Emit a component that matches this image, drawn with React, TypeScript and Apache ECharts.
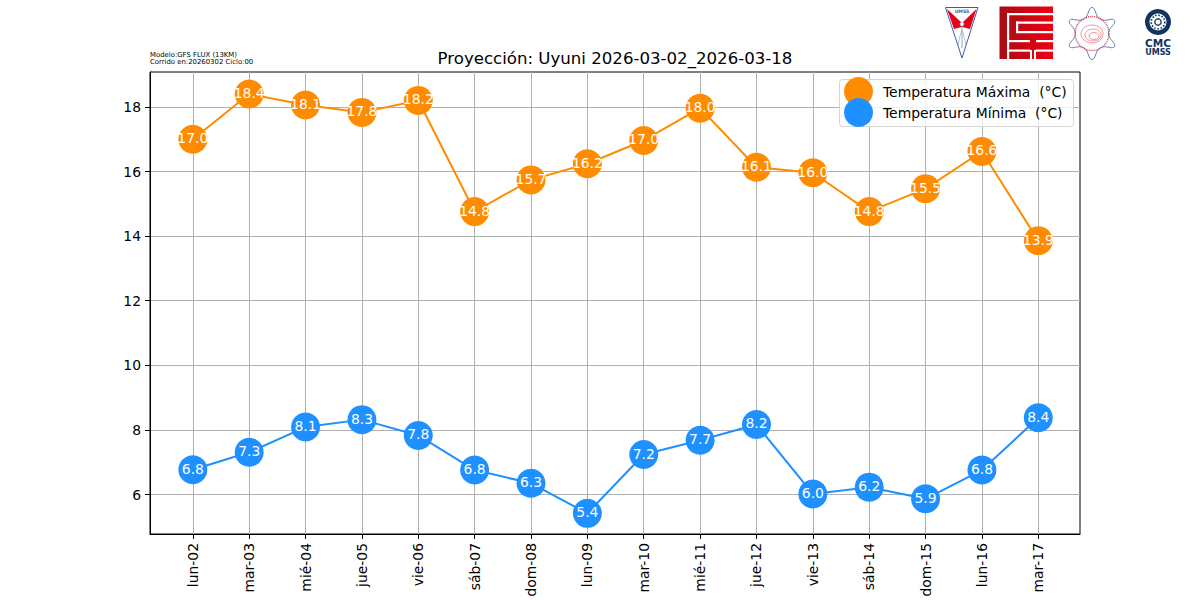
import React, { useEffect, useRef } from "react";
import * as echarts from "echarts";

const categories = ["lun-02","mar-03","mié-04","jue-05","vie-06","sáb-07","dom-08","lun-09","mar-10","mié-11","jue-12","vie-13","sáb-14","dom-15","lun-16","mar-17"];
const maxValues = [17.0,18.4,18.06,17.83,18.2,14.76,15.74,16.24,16.96,17.96,16.13,15.96,14.76,15.47,16.62,13.86];
const minValues = [6.77,7.31,8.09,8.32,7.83,6.76,6.35,5.42,7.24,7.68,8.17,6.02,6.23,5.87,6.76,8.38];
const yTicks = [6,8,10,12,14,16,18];
const MAX_NAME = "Temperatura Máxima  (°C)";
const MIN_NAME = "Temperatura Mínima  (°C)";
const TITLE = "Proyección: Uyuni 2026-03-02_2026-03-18";
const META = ["Modelo:GFS FLUX (13KM)", "Corrido en:20260302 Ciclo:00"];

const FONT = "DejaVu Sans";

function series(name: string, values: number[], color: string) {
  return {
    name,
    type: "line",
    data: values.map((v, i) => [i, v]),
    symbol: "circle",
    symbolSize: 29,
    showAllSymbol: true,
    lineStyle: { color, width: 2 },
    itemStyle: { color },
    label: {
      show: true,
      position: "inside",
      offset: [0, -1],
      color: "#fff",
      textBorderWidth: 0,
      fontFamily: FONT,
      fontSize: 13.9,
      formatter: (p: any) => p.value[1].toFixed(1),
    },
  };
}

function logos() {
  const red = "#e6001a", blue = "#3a5fa8", navy = "#12335f";
  const redGrad = new echarts.graphic.LinearGradient(0, 0, 1, 0, [
    { offset: 0, color: "#a80c14" },
    { offset: 1, color: "#ee0010" },
  ]);
  const white = [
    [1007, 13, 46, 2.2], [1007, 13, 2.2, 46],
    [1016, 21.5, 37, 2.2], [1016, 21.5, 2.2, 10],
    [1016, 31, 37, 2.2],
    [1009, 40, 21, 2.2], [1036, 40, 17, 2.2],
    [1009, 49.5, 21, 2.2], [1036, 49.5, 17, 2.2],
    [1030, 50, 2, 9], [1034, 50, 2, 9],
  ];
  const star: number[][] = [];
  for (let i = 0; i < 12; i++) {
    const a = (i * Math.PI) / 6 + Math.PI / 2;
    const r = i % 2 === 0 ? 26 : 16.5;
    star.push([1092 + r * Math.cos(a), 33.5 - r * Math.sin(a)]);
  }
  return [
    // UMSS shield
    { type: "polygon", shape: { points: [[945.5,7.5],[978,7.5],[962,58]] }, style: { fill: "#fff", stroke: blue, lineWidth: 1 } },
    { type: "polygon", shape: { points: [[947,9],[962,23],[962,27],[954,29]] }, style: { fill: red } },
    { type: "polygon", shape: { points: [[976.5,9],[962,23],[962,27],[970,29]] }, style: { fill: red } },
    { type: "text", x: 962, y: 11.5, style: { text: "UMSS", font: "bold 4.6px " + FONT, fill: blue, align: "center", verticalAlign: "middle" } },
    { type: "line", shape: { x1: 962, y1: 24, x2: 962, y2: 48 }, style: { stroke: "#8fa6cf", lineWidth: 1 } },
    { type: "circle", shape: { cx: 962, cy: 24, r: 2 }, style: { fill: "#fff", stroke: "#8fa6cf", lineWidth: 0.7 } },
    { type: "polyline", shape: { points: [[958,45],[960,36],[962,30],[964,36],[966,45]] }, style: { fill: "none", stroke: "#9db1d6", lineWidth: 0.8 } },
    // FCyT block logo
    { type: "rect", shape: { x: 999.5, y: 6.5, width: 53.5, height: 52.5 }, style: { fill: redGrad } },
    ...white.map(([x, y, width, height]) => ({ type: "rect", shape: { x, y, width, height }, style: { fill: "#fff" } })),
    // Atom-like emblem
    { type: "polygon", shape: { points: star, smooth: 0.5 }, style: { fill: "#fff", stroke: blue, lineWidth: 0.8 } },
    { type: "circle", shape: { cx: 1092, cy: 33.5, r: 17 }, style: { fill: "none", stroke: "#d9434e", lineWidth: 1.4, lineDash: [1, 1] } },
    { type: "ellipse", shape: { cx: 1092, cy: 34, rx: 11, ry: 9 }, style: { fill: "none", stroke: "#e56a72", lineWidth: 0.7 } },
    { type: "ellipse", shape: { cx: 1093, cy: 35, rx: 8, ry: 6 }, style: { fill: "none", stroke: "#e56a72", lineWidth: 0.7 } },
    { type: "ellipse", shape: { cx: 1094, cy: 36, rx: 5, ry: 3.5 }, style: { fill: "none", stroke: "#e56a72", lineWidth: 0.7 } },
    // CMC emblem
    { type: "circle", shape: { cx: 1158, cy: 22, r: 13 }, style: { fill: navy } },
    { type: "circle", shape: { cx: 1158, cy: 22, r: 8.5 }, style: { fill: "#fff" } },
    { type: "circle", shape: { cx: 1158, cy: 22, r: 6.8 }, style: { fill: "none", stroke: navy, lineWidth: 1.6, lineDash: [1.6, 1.6] } },
    { type: "circle", shape: { cx: 1158, cy: 22, r: 3.2 }, style: { fill: "#fff", stroke: navy, lineWidth: 1.3 } },
    { type: "text", x: 1158, y: 43, style: { text: "CMC", font: "bold 10.5px " + FONT, fill: navy, align: "center", verticalAlign: "middle" } },
    { type: "text", x: 1158, y: 52, style: { text: "UMSS", font: "bold 8px " + FONT, fill: navy, align: "center", verticalAlign: "middle" } },
  ];
}

export default function App() {
  const ref = useRef<HTMLDivElement>(null);
  useEffect(() => {
    const chart = echarts.init(ref.current!, undefined, { renderer: "svg" });
    const xVals = categories.map((_, i) => i);
    chart.setOption({
      animation: false,
      backgroundColor: "#fff",
      textStyle: { fontFamily: FONT },
      title: {
        text: TITLE,
        left: 610,
        top: 45,
        textAlign: "center",
        textStyle: { fontFamily: FONT, fontSize: 16.6, fontWeight: "normal", color: "#000" },
      },
      grid: { left: 150, top: 72, width: 930, height: 462, show: true, borderColor: "#000", borderWidth: 1, backgroundColor: "transparent" },
      xAxis: {
        type: "value",
        min: -0.76,
        max: 15.74,
        axisLine: { show: true, onZero: false, lineStyle: { color: "#000", width: 1 } },
        axisTick: { show: true, length: 5, customValues: xVals, lineStyle: { color: "#000", width: 1 } },
        splitLine: { show: true, lineStyle: { color: "#b0b0b0", width: 1 } },
        axisLabel: {
          customValues: xVals,
          rotate: 90,
          margin: 9,
          color: "#000",
          fontFamily: FONT,
          fontSize: 13.9,
          formatter: (v: number) => categories[v] ?? "",
        },
      },
      yAxis: {
        type: "value",
        min: 4.78,
        max: 19.08,
        axisLine: { show: true, onZero: false, lineStyle: { color: "#000", width: 1 } },
        axisTick: { show: true, length: 5, customValues: yTicks, lineStyle: { color: "#000", width: 1 } },
        splitLine: { show: true, lineStyle: { color: "#b0b0b0", width: 1 } },
        axisLabel: { customValues: yTicks, margin: 9, color: "#000", fontFamily: FONT, fontSize: 13.9 },
      },
      legend: {
        orient: "vertical",
        left: 844,
        top: 77,
        padding: 0,
        itemWidth: 29,
        itemHeight: 29,
        itemGap: -8,
        icon: "circle",
        data: [MAX_NAME, MIN_NAME],
        textStyle: { fontFamily: FONT, fontSize: 13.9, color: "#000", padding: [0, 0, 0, 5] },
        z: 10,
      },
      graphic: [
        { type: "rect", z: 5, shape: { x: 839.5, y: 79.5, width: 234, height: 47, r: 3 }, style: { fill: "rgba(255,255,255,0.8)", stroke: "#d5d5d5", lineWidth: 1 } },
        { type: "text", x: 150, y: 54.5, style: { text: META[0], font: "6.9px " + FONT, fill: "#000", verticalAlign: "middle" } },
        { type: "text", x: 150, y: 61.5, style: { text: META[1], font: "6.9px " + FONT, fill: "#000", verticalAlign: "middle" } },
        ...logos(),
      ],
      series: [series(MAX_NAME, maxValues, "#ff8c00"), series(MIN_NAME, minValues, "#1e90ff")],
    });
    return () => chart.dispose();
  }, []);
  return <div ref={ref} style={{ position: "fixed", left: 0, top: 0, width: 1200, height: 600 }} />;
}
